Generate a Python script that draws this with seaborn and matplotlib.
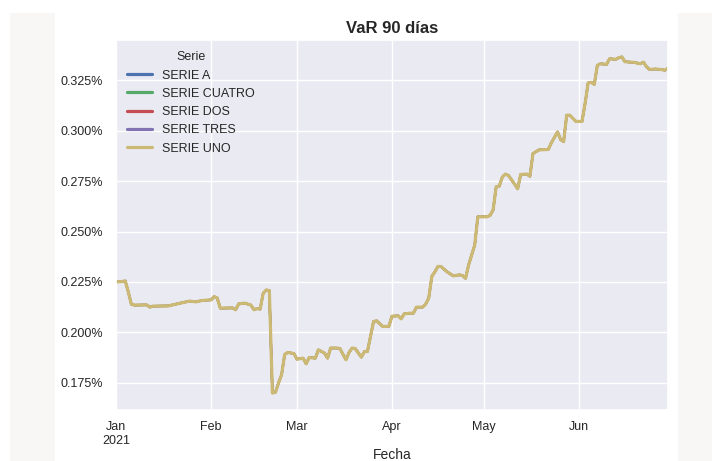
import pandas as pd
import matplotlib.pyplot as plt
import matplotlib.dates as mdates
from matplotlib.ticker import PercentFormatter, FixedFormatter
from matplotlib.patches import Rectangle
import seaborn as sns

# === DATA ===
fechas = [
    "2021-01-01", "2021-01-03", "2021-01-04", "2021-01-05", "2021-01-06", "2021-01-07",
    "2021-01-11", "2021-01-12", "2021-01-13", "2021-01-18", "2021-01-22", "2021-01-25",
    "2021-01-27", "2021-01-29", "2021-02-01", "2021-02-02", "2021-02-03", "2021-02-04",
    "2021-02-08", "2021-02-09", "2021-02-10", "2021-02-12", "2021-02-14", "2021-02-15",
    "2021-02-16", "2021-02-17", "2021-02-18", "2021-02-19", "2021-02-20", "2021-02-21",
    "2021-02-22", "2021-02-23", "2021-02-24", "2021-02-25", "2021-02-26", "2021-02-28",
    "2021-03-01", "2021-03-03", "2021-03-04", "2021-03-05", "2021-03-07", "2021-03-08",
    "2021-03-10", "2021-03-11", "2021-03-12", "2021-03-14", "2021-03-15", "2021-03-17",
    "2021-03-18", "2021-03-19", "2021-03-20", "2021-03-22", "2021-03-23", "2021-03-24",
    "2021-03-26", "2021-03-27", "2021-03-29", "2021-03-31", "2021-04-01", "2021-04-03",
    "2021-04-04", "2021-04-05", "2021-04-07", "2021-04-08", "2021-04-09", "2021-04-11",
    "2021-04-12", "2021-04-13", "2021-04-14", "2021-04-15", "2021-04-16", "2021-04-17",
    "2021-04-19", "2021-04-21", "2021-04-23", "2021-04-24", "2021-04-25", "2021-04-26",
    "2021-04-28", "2021-04-29", "2021-05-02", "2021-05-03", "2021-05-04", "2021-05-05",
    "2021-05-06", "2021-05-07", "2021-05-08", "2021-05-09", "2021-05-11", "2021-05-12",
    "2021-05-13", "2021-05-15", "2021-05-16", "2021-05-17", "2021-05-19", "2021-05-22",
    "2021-05-23", "2021-05-25", "2021-05-26", "2021-05-27", "2021-05-28", "2021-05-29",
    "2021-05-31", "2021-06-02", "2021-06-03", "2021-06-04", "2021-06-05", "2021-06-06",
    "2021-06-07", "2021-06-08", "2021-06-10", "2021-06-11", "2021-06-13", "2021-06-14",
    "2021-06-15", "2021-06-16", "2021-06-19", "2021-06-21", "2021-06-22", "2021-06-23",
    "2021-06-24", "2021-06-26", "2021-06-28", "2021-06-29", "2021-06-30",
]

# VaR a 90 dias, en %
var_90 = [
    0.2250, 0.2252, 0.2255, 0.2200, 0.2139, 0.2135,
    0.2136, 0.2125, 0.2130, 0.2131, 0.2145, 0.2155,
    0.2151, 0.2158, 0.2161, 0.2177, 0.2170, 0.2120,
    0.2121, 0.2112, 0.2141, 0.2145, 0.2135, 0.2112,
    0.2118, 0.2115, 0.2194, 0.2210, 0.2207, 0.1699,
    0.1703, 0.1749, 0.1790, 0.1890, 0.1900, 0.1895,
    0.1867, 0.1872, 0.1844, 0.1875, 0.1872, 0.1913,
    0.1897, 0.1872, 0.1922, 0.1922, 0.1920, 0.1864,
    0.1900, 0.1922, 0.1920, 0.1877, 0.1904, 0.1905,
    0.2054, 0.2057, 0.2029, 0.2030, 0.2080, 0.2082,
    0.2067, 0.2092, 0.2095, 0.2095, 0.2125, 0.2125,
    0.2140, 0.2170, 0.2277, 0.2300, 0.2327, 0.2326,
    0.2300, 0.2280, 0.2285, 0.2282, 0.2268, 0.2334,
    0.2433, 0.2573, 0.2573, 0.2580, 0.2607, 0.2722,
    0.2725, 0.2770, 0.2785, 0.2778, 0.2735, 0.2712,
    0.2783, 0.2785, 0.2774, 0.2887, 0.2905, 0.2907,
    0.2940, 0.2994, 0.2956, 0.2946, 0.3077, 0.3077,
    0.3046, 0.3046, 0.3135, 0.3237, 0.3240, 0.3230,
    0.3324, 0.3332, 0.3329, 0.3357, 0.3354, 0.3362,
    0.3366, 0.3342, 0.3339, 0.3332, 0.3340, 0.3318,
    0.3304, 0.3306, 0.3303, 0.3300, 0.3309,
]

series = ["SERIE A", "SERIE CUATRO", "SERIE DOS", "SERIE TRES", "SERIE UNO"]
colores = ["#4C72B0", "#55A868", "#C44E52", "#8172B2", "#CCB974"]
meses = ["Jan\n2021", "Feb", "Mar", "Apr", "May", "Jun"]

# all series carry the same values, so only the last one is visible
df = pd.concat(
    [pd.DataFrame({"Fecha": pd.to_datetime(fechas), "VaR": var_90, "Serie": s}) for s in series],
    ignore_index=True,
)

# === PLOT ===
sns.set_theme(style="darkgrid")
plt.rcParams["font.family"] = ["Liberation Sans", "DejaVu Sans"]

fig, ax = plt.subplots(figsize=(7.12, 4.61), dpi=100)
fig.subplots_adjust(left=0.163, right=0.938, top=0.913, bottom=0.111)

# screenshot side bands
for x0, w in [(10 / 712, 45 / 712), (678 / 712, 34 / 712)]:
    fig.patches.append(Rectangle((x0, 0), w, 1 - 13 / 461, transform=fig.transFigure,
                                 facecolor="#F8F7F6", edgecolor="none", zorder=-10))

sns.lineplot(data=df, x="Fecha", y="VaR", hue="Serie", hue_order=series,
             palette=colores, linewidth=2.3, ax=ax)

ax.set_xlim(df["Fecha"].min(), df["Fecha"].max())
ax.xaxis.set_major_locator(mdates.MonthLocator())
ax.xaxis.set_major_formatter(FixedFormatter(meses))
ax.yaxis.set_major_formatter(PercentFormatter(xmax=100, decimals=3))
ax.tick_params(labelsize=9)
ax.tick_params(axis="x", pad=2)

ax.set_title("VaR 90 días", fontsize=12, fontweight="bold", pad=5)
ax.set_xlabel("Fecha", fontsize=10, labelpad=1)
ax.set_ylabel("")
leg = ax.legend(title="Serie", loc="upper left", frameon=False, fontsize=9, title_fontsize=9)

# hidden series sit a bit thinner under the top one, so no dark fringe shows
for ln in ax.get_lines()[:len(series) - 1]:
    ln.set_linewidth(1.6)

plt.savefig("out.png", dpi=100)
